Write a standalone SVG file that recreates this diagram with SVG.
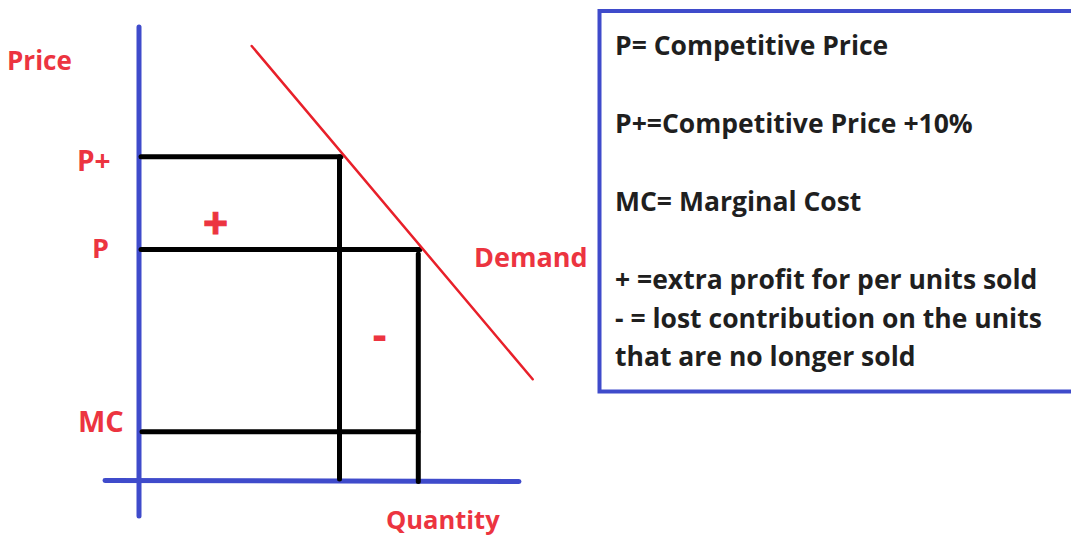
<svg xmlns="http://www.w3.org/2000/svg" width="1071" height="535" viewBox="0 0 1071 535">
<style>
.lbl{font-family:"Open Sans","Noto Sans",sans-serif;font-weight:bold;fill:#EC3440}
.txt{font-family:"Open Sans","Noto Sans",sans-serif;font-weight:bold;fill:#1F1F1F;font-size:26.5px}
.axis{stroke:#3F4BCB;stroke-width:5;stroke-linecap:round;fill:none}
.blk{stroke:#000;stroke-width:5;stroke-linecap:round;fill:none}
.dem{stroke:#E8202A;stroke-width:2.5;stroke-linecap:round;fill:none}
</style>
<rect width="1071" height="535" fill="#fff"/>
<g id="axes">
<line class="axis" x1="139" y1="27" x2="139" y2="516"/>
<line class="axis" x1="105" y1="480.5" x2="519" y2="481.5"/>
</g>
<g id="connectors">
<line class="blk" x1="141" y1="156.7" x2="341" y2="156.7"/>
<line class="blk" x1="339.5" y1="156.7" x2="339.5" y2="479"/>
<line class="blk" x1="141" y1="249.5" x2="420" y2="249.5"/>
<line class="blk" x1="418.3" y1="254" x2="418.3" y2="481.5"/>
<line class="blk" x1="142" y1="431.7" x2="418" y2="431.7"/>
</g>
<g id="demand">
<line class="dem" x1="251.7" y1="46" x2="532.7" y2="379.3"/>
<text class="lbl" x="474" y="267" font-size="27">Demand</text>
</g>
<g id="labels">
<text class="lbl" x="7" y="70" font-size="26">Price</text>
<text class="lbl" x="77" y="171" font-size="28">P+</text>
<text class="lbl" x="92" y="257.5" font-size="27">P</text>
<text class="lbl" x="78" y="432" font-size="29">MC</text>
<text class="lbl" x="386" y="529" font-size="25.5">Quantity</text>
<text class="lbl" x="215.5" y="239" font-size="44" text-anchor="middle" stroke="#EC3440" stroke-width="1">+</text>
<text class="lbl" x="379.5" y="350" font-size="44" text-anchor="middle">-</text>
</g>
<g id="legend">
<rect x="599.5" y="11" width="490" height="380.5" fill="none" stroke="#3F4BCB" stroke-width="4"/>
<text class="txt" x="615" y="55">P= Competitive Price</text>
<text class="txt" x="615" y="132.5">P+=Competitive Price +10%</text>
<text class="txt" x="615" y="210.5">MC= Marginal Cost</text>
<text class="txt" x="615" y="288.5">+ =extra profit for per units sold</text>
<text class="txt" x="615" y="328">- = lost contribution on the units</text>
<text class="txt" x="615" y="366">that are no longer sold</text>
</g>
</svg>
